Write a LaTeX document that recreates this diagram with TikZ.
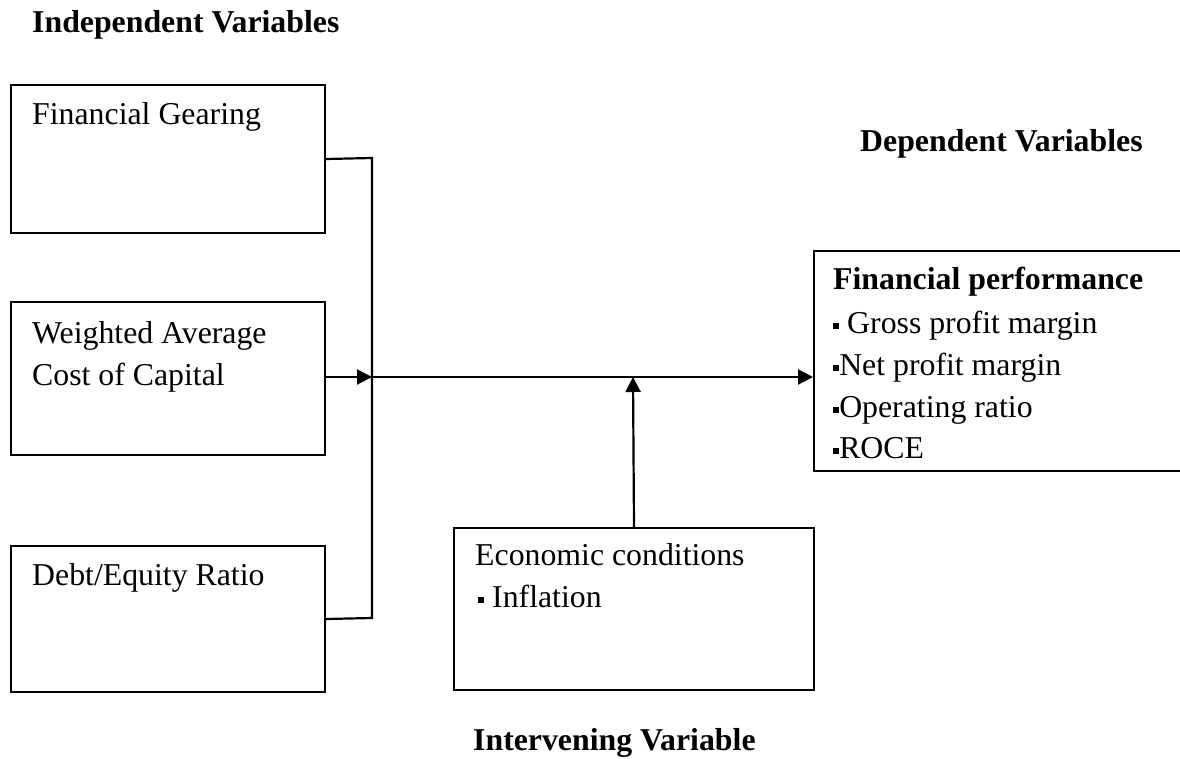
\documentclass[tikz,border=0pt]{standalone}
\usepackage{fontspec}
\setmainfont{Liberation Serif}
\usetikzlibrary{arrows.meta}
\newcommand{\sqbul}{\raisebox{0.13em}{\rule{0.19em}{0.19em}}}
\begin{document}
\begin{tikzpicture}[x=1pt,y=-1pt,
  box/.style={draw, line width=2pt, inner sep=0pt, anchor=north west},
  lbl/.style={anchor=base west, inner sep=0pt, font=\fontsize{31.8}{42}\selectfont, align=left},
  hdr/.style={lbl, font=\fontsize{31.8}{42}\selectfont\bfseries},
  conn/.style={line width=2.2pt},
  arr/.style={conn, -{Triangle[length=15pt,width=15pt]}}]
\useasboundingbox (0,0) rectangle (1180,759);
\clip (0,0) rectangle (1180,759);
% boxes
\node[box, minimum width=314pt, minimum height=148pt] (fg) at (10,84) {};
\node[box, minimum width=314pt, minimum height=153pt] (wacc) at (10,301) {};
\node[box, minimum width=314pt, minimum height=146pt] (de) at (10,545) {};
\node[box, minimum width=360pt, minimum height=162pt] (econ) at (453,527) {};
\node[box, minimum width=380pt, minimum height=220pt] (fp) at (813,250) {};
% headings
\node[hdr] (tind) at (32,33) {Independent Variables};
\node[hdr] (tdep) at (860,152) {Dependent Variables};
\node[hdr] (tint) at (473,750) {Intervening Variable};
% texts
\node[lbl] (tfg) at (32,125) {Financial Gearing};
\node[lbl] (tw1) at (32,343) {Weighted Average};
\node[lbl] (tw2) at (32,385) {Cost of Capital};
\node[lbl] (tde) at (32,585) {Debt/Equity Ratio};
\node[lbl] (te1) at (475,565) {Economic conditions};
\node[lbl] (te2) at (478,607) {\sqbul\ Inflation};
\node[hdr] (tf0) at (833,290) {Financial performance};
\node[lbl] (tf1) at (833,333) {\sqbul\ Gross profit margin};
\node[lbl] (tf2) at (833,375) {\sqbul Net profit margin};
\node[lbl] (tf3) at (833,417) {\sqbul Operating ratio};
\node[lbl] (tf4) at (833,458) {\sqbul ROCE};
% connectors
\coordinate (jt) at (372,158);
\coordinate (jb) at (372,618);
\coordinate (j) at (372,377);
\coordinate (m) at (633,377);
\draw[conn] (fg.east) -- (jt) -- (jb) -- (de.east);
\draw[arr] (wacc.east |- j) -- (j);
\draw[arr] (j) -- (j -| fp.west);
\draw[arr] (econ.north) -- (m);
\end{tikzpicture}
\end{document}
